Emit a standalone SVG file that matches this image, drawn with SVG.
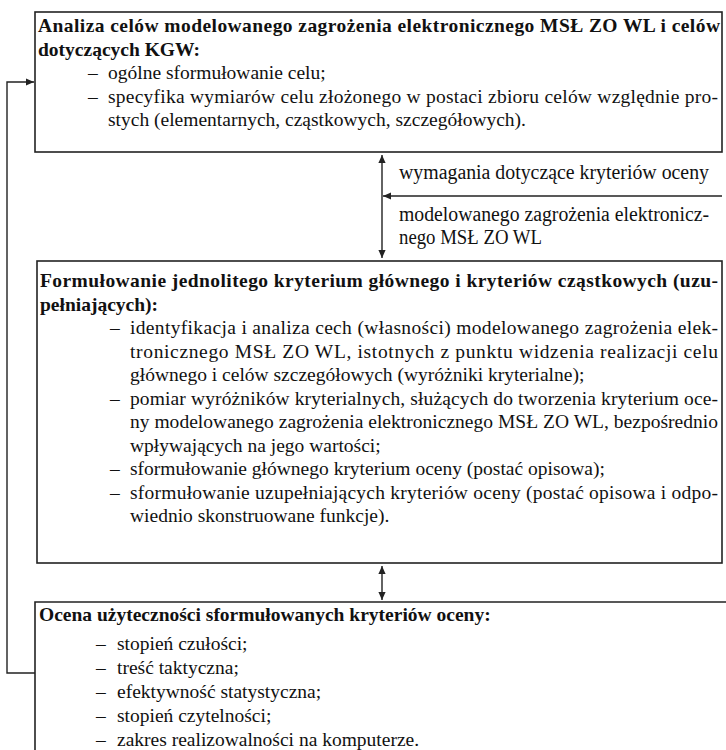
<svg xmlns="http://www.w3.org/2000/svg" width="726" height="750" viewBox="0 0 726 750">
<defs>
<style>
text{font-family:"Liberation Serif","Times New Roman",serif;font-size:19.5px;fill:#111}
.b{font-weight:bold}
.lb{font-size:20px}
.box{fill:none;stroke:#222;stroke-width:1.6}
.ln{fill:none;stroke:#222;stroke-width:1.4}
</style>
<marker id="ah" viewBox="0 0 10 10" refX="10" refY="5" markerWidth="8" markerHeight="9" markerUnits="userSpaceOnUse" orient="auto-start-reverse">
<path d="M0,0.5 L10,5 L0,9.5 z" fill="#222"/>
</marker>
</defs>
<rect width="726" height="750" fill="#fff"/>
<g id="box1">
<rect class="box" x="35" y="12" width="687" height="140"/>
<text class="b" x="38" y="32" textLength="682" lengthAdjust="spacing">Analiza celów modelowanego  zagrożenia elektronicznego MSŁ ZO WL i celów</text>
<text class="b" x="38" y="55.5">dotyczących KGW:</text>
<text x="88" y="79">–</text><text x="108" y="79">ogólne sformułowanie celu;</text>
<text x="88" y="102.5">–</text><text x="108" y="102.5" textLength="610" lengthAdjust="spacing">specyfika  wymiarów celu złożonego w postaci zbioru celów względnie pro-</text>
<text x="108" y="126">stych (elementarnych, cząstkowych, szczegółowych).</text>
</g>
<g id="label">
<text class="lb" x="399" y="179" textLength="310" lengthAdjust="spacingAndGlyphs">wymagania dotyczące kryteriów oceny</text>
<text class="lb" x="399" y="221" textLength="310" lengthAdjust="spacingAndGlyphs">modelowanego zagrożenia elektronicz-</text>
<text class="lb" x="399" y="244" textLength="143" lengthAdjust="spacingAndGlyphs">nego MSŁ ZO WL</text>
</g>
<g id="box2">
<rect class="box" x="37" y="261" width="685" height="302"/>
<text class="b" x="40" y="287" textLength="678" lengthAdjust="spacing">Formułowanie jednolitego kryterium głównego i kryteriów cząstkowych (uzu-</text>
<text class="b" x="40" y="310.5">pełniających):</text>
<text x="110" y="334">–</text><text x="130" y="334" textLength="588" lengthAdjust="spacing">identyfikacja i analiza cech (własności) modelowanego zagrożenia elek-</text>
<text x="130" y="357.5" textLength="588" lengthAdjust="spacing">tronicznego MSŁ ZO WL, istotnych z punktu widzenia realizacji celu</text>
<text x="130" y="381">głównego i celów szczegółowych (wyróżniki kryterialne);</text>
<text x="110" y="404.5">–</text><text x="130" y="404.5" textLength="588" lengthAdjust="spacing">pomiar wyróżników kryterialnych, służących do tworzenia kryterium oce-</text>
<text x="130" y="428" textLength="588" lengthAdjust="spacing">ny modelowanego zagrożenia elektronicznego MSŁ ZO WL, bezpośrednio</text>
<text x="130" y="451.5">wpływających na jego wartości;</text>
<text x="110" y="475">–</text><text x="130" y="475">sformułowanie głównego kryterium oceny (postać opisowa);</text>
<text x="110" y="498.5">–</text><text x="130" y="498.5" textLength="588" lengthAdjust="spacing">sformułowanie uzupełniających kryteriów oceny (postać opisowa  i odpo-</text>
<text x="130" y="522">wiednio skonstruowane funkcje).</text>
</g>
<g id="box3">
<path class="box" d="M728,602 H35 V752"/>
<text class="b" x="39" y="621">Ocena użyteczności sformułowanych kryteriów oceny:</text>
<text x="96" y="650">–</text><text x="117" y="650">stopień czułości;</text>
<text x="96" y="674">–</text><text x="117" y="674">treść taktyczna;</text>
<text x="96" y="698">–</text><text x="117" y="698">efektywność statystyczna;</text>
<text x="96" y="722">–</text><text x="117" y="722">stopień czytelności;</text>
<text x="96" y="746">–</text><text x="117" y="746">zakres realizowalności na komputerze.</text>
</g>
<g id="connectors">
<line class="ln" x1="382" y1="155" x2="382" y2="258" marker-start="url(#ah)" marker-end="url(#ah)"/>
<line class="ln" x1="722" y1="196" x2="383" y2="196" marker-end="url(#ah)"/>
<line class="ln" x1="382" y1="566" x2="382" y2="600" marker-start="url(#ah)" marker-end="url(#ah)"/>
<polyline class="ln" points="35,673 7,673 7,82 34,82" marker-end="url(#ah)"/>
</g>
</svg>
